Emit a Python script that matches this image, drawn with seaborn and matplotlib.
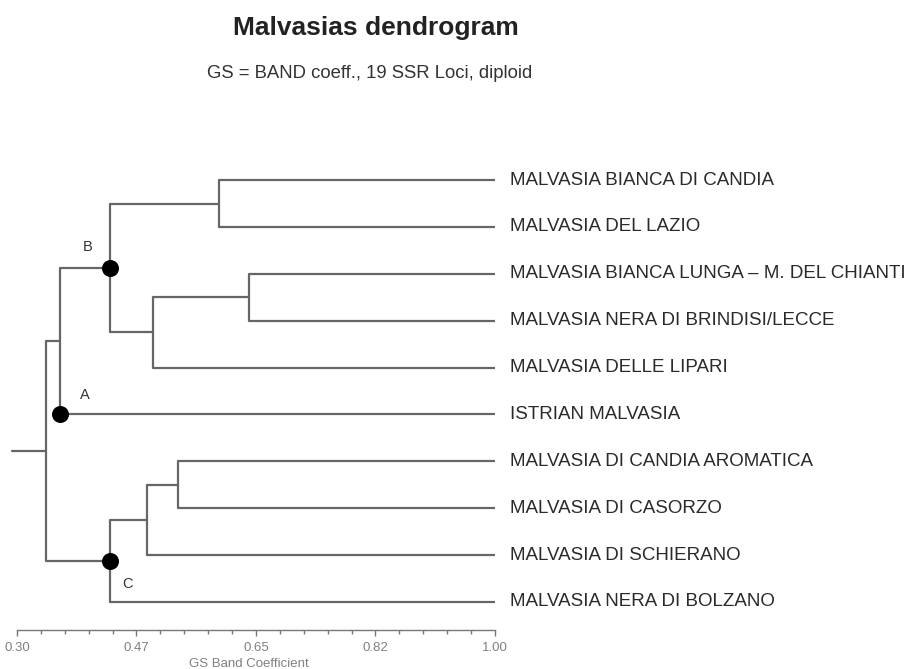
import numpy as np
import pandas as pd
import matplotlib
matplotlib.use("Agg")
import matplotlib.pyplot as plt
import seaborn as sns

# Leaf names, top to bottom
leaves = [
    "MALVASIA BIANCA DI CANDIA",
    "MALVASIA DEL LAZIO",
    "MALVASIA BIANCA LUNGA \u2013 M. DEL CHIANTI",
    "MALVASIA NERA DI BRINDISI/LECCE",
    "MALVASIA DELLE LIPARI",
    "ISTRIAN MALVASIA",
    "MALVASIA DI CANDIA AROMATICA",
    "MALVASIA DI CASORZO",
    "MALVASIA DI SCHIERANO",
    "MALVASIA NERA DI BOLZANO",
]

# Merges: (left child, right child, GS Band similarity at the join)
# children are leaf indices (0..9) or earlier merge ids ("n1", ...)
merge_ids = ["n1", "n2", "n3", "n4", "n5", "n6", "n7", "n8", "n9"]
merge_left = [0, 2, "n2", "n1", "n4", 6, "n6", "n7", "n5"]
merge_right = [1, 3, 4, "n3", 5, 7, 8, 9, "n8"]
merge_height = [0.596, 0.640, 0.499, 0.436, 0.363, 0.536, 0.491, 0.436, 0.343]
root_stub = 0.292

# Marked groups: label and dot position (similarity, row)
group_labels = ["B", "A", "C"]
group_dot_x = [0.436, 0.363, 0.436]
group_dot_y = [1.875, 5.0, 8.125]

tick_values = [0.30, 0.475, 0.65, 0.825, 1.00]
tick_labels = ["0.30", "0.47", "0.65", "0.82", "1.00"]

# Build the elbow segments of the tree
pos = {}
for i in range(len(leaves)):
    pos[i] = (1.0, float(i))

rows = []
seg = 0
for mid, a, b, h in zip(merge_ids, merge_left, merge_right, merge_height):
    xa, ya = pos[a]
    xb, yb = pos[b]
    for (x, y) in [(xa, ya), (h, ya), (h, yb), (xb, yb)]:
        rows.append({"x": x, "y": y, "seg": seg})
    seg += 1
    pos[mid] = (h, (ya + yb) / 2)

rx, ry = pos["n9"]
rows.append({"x": rx, "y": ry, "seg": seg})
rows.append({"x": root_stub, "y": ry, "seg": seg})
tree = pd.DataFrame(rows)
dots = pd.DataFrame({"x": group_dot_x, "y": group_dot_y, "g": group_labels})

sns.set_theme(style="white")
plt.rcParams["font.family"] = ["Liberation Sans", "DejaVu Sans"]

fig = plt.figure(figsize=(9.12, 6.69), dpi=100)
W, H = 912, 669
px_per_unit = 478 / 0.7
xmin = 0.28
left_px = 17 - (0.30 - xmin) * px_per_unit
ax = fig.add_axes([left_px / W, 1 - 630 / H, (1.0 - xmin) * px_per_unit / W, (630 - 152) / H])

line_color = "#666666"
sns.lineplot(data=tree, x="x", y="y", units="seg", estimator=None, sort=False,
             color=line_color, linewidth=1.6, ax=ax, legend=False)
sns.scatterplot(data=dots, x="x", y="y", color="black", s=150, edgecolor="black",
                linewidth=0, zorder=5, ax=ax, legend=False)

offsets = {"B": (-16, 15), "A": (18, 14), "C": (13, -17)}
for g, x, y in zip(group_labels, group_dot_x, group_dot_y):
    ax.annotate(g, (x, y), xytext=offsets[g], textcoords="offset points",
                ha="center", va="center", fontsize=10.5, color="#333333")

for i, name in enumerate(leaves):
    ax.annotate(name, (1.0, i), xytext=(10.5, 0), textcoords="offset points",
                ha="left", va="center", fontsize=13.5, color="#2a2a2a",
                annotation_clip=False)

ax.set_xlim(xmin, 1.0)
ax.set_ylim(9.6, -0.6)
for s in ["top", "right", "left"]:
    ax.spines[s].set_visible(False)
ax.spines["bottom"].set_bounds(0.30, 1.0)
ax.spines["bottom"].set_color("#777777")
ax.spines["bottom"].set_linewidth(1.0)
ax.set_yticks([])
ax.set_xticks(tick_values)
ax.set_xticklabels(tick_labels)
ax.set_xticks(np.arange(0.30, 1.0001, 0.035), minor=True)
ax.tick_params(axis="x", which="major", direction="out", length=4.5, width=1.0,
               color="#777777", labelsize=9.5, labelcolor="#808080", pad=4, bottom=True)
ax.tick_params(axis="x", which="minor", direction="out", length=3, width=1.0,
               color="#777777", bottom=True)
ax.set_xlabel("GS Band Coefficient", fontsize=9.5, color="#808080", labelpad=3)
ax.set_ylabel("")

fig.text(376 / W, 1 - 35 / H, "Malvasias dendrogram", ha="center", va="baseline",
         fontsize=19, fontweight="bold", color="#222222")
fig.text(370 / W, 1 - 78 / H, "GS = BAND coeff., 19 SSR Loci, diploid", ha="center",
         va="baseline", fontsize=13.3, color="#333333")

fig.savefig("out.png", dpi=100)
